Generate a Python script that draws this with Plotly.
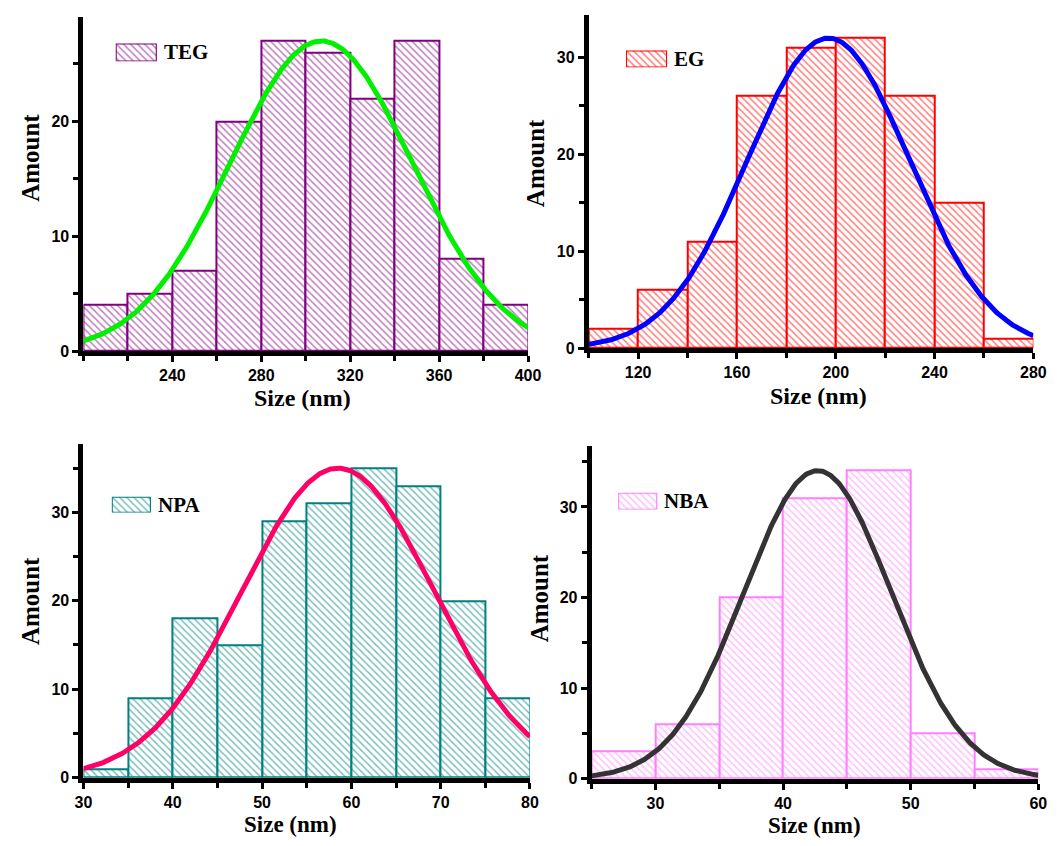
import numpy as np
import plotly.graph_objects as go

W, H = 1064, 846

# ---- histogram data (bin edges and counts) ----
teg_edges = [200, 220, 240, 260, 280, 300, 320, 340, 360, 380, 400]
teg_counts = [4, 5, 7, 20, 27, 26, 22, 27, 8, 4]

eg_edges = [100, 120, 140, 160, 180, 200, 220, 240, 260, 280]
eg_counts = [2, 6, 11, 26, 31, 32, 26, 15, 1]

npa_edges = [30, 35, 40, 45, 50, 55, 60, 65, 70, 75, 80]
npa_counts = [1, 9, 18, 15, 29, 31, 35, 33, 20, 9]

nba_edges = [25, 30, 35, 40, 45, 50, 55, 60]
nba_counts = [3, 6, 20, 31, 34, 5, 1]

# ---- Gaussian fit parameters: (centre, sigma, amplitude) ----
teg_fit = (307.0, 41.0, 27.0)
eg_fit = (197.0, 32.8, 32.0)
npa_fit = (58.5, 10.7, 35.0)
nba_fit = (42.7, 5.76, 34.0)

# ---- tick labels ----
teg_xticks = [240, 280, 320, 360, 400]
eg_xticks = [120, 160, 200, 240, 280]
npa_xticks = [30, 40, 50, 60, 70, 80]
nba_xticks = [30, 40, 50, 60]
teg_yticks = [0, 10, 20]
other_yticks = [0, 10, 20, 30]

TICK_FONT = dict(family="Arial, Liberation Sans", size=16, color="black", weight="bold")
SERIF = "Times New Roman, Liberation Serif"
HATCH = dict(shape="\\", size=5, solidity=0.3, bgcolor="white", fillmode="overlay")


def px(x):
    return x / W


def py(y):
    return 1 - y / H


panels = [
    dict(name="TEG", edges=teg_edges, counts=teg_counts, fit=teg_fit,
         bar="#800080", line="#00F000", lw=5,
         dom=(76, 530, 355, 17), yr=29.1, xt=teg_xticks, yt=teg_yticks,
         xminor=20, yminor=5,
         sw=(109, 151, 44, 62), title_x=(300, 402, 24), title_y=(22, 160)),
    dict(name="EG", edges=eg_edges, counts=eg_counts, fit=eg_fit,
         bar="#FF0000", line="#0000FF", lw=5,
         dom=(592, 1046, 352, 15), yr=34.4, xt=eg_xticks, yt=other_yticks,
         xminor=20, yminor=5,
         sw=(630, 672, 51, 68), title_x=(827, 400, 24), title_y=(537, 165)),
    dict(name="NPA", edges=npa_edges, counts=npa_counts, fit=npa_fit,
         bar="#008080", line="#FF0066", lw=5,
         dom=(76, 532, 786, 449), yr=37.7, xt=npa_xticks, yt=other_yticks,
         xminor=5, yminor=5,
         sw=(105, 145, 502, 518), title_x=(287, 833, 23), title_y=(22, 608)),
    dict(name="NBA", edges=nba_edges, counts=nba_counts, fit=nba_fit,
         bar="#FF80FF", line="#333333", lw=5,
         dom=(595, 1051, 787, 451), yr=36.7, xt=nba_xticks, yt=other_yticks,
         xminor=5, yminor=5,
         sw=(622, 662, 498, 515), title_x=(823, 834, 23), title_y=(542, 605)),
]

fig = go.Figure()
layout = {}
annotations = []

for i, p in enumerate(panels):
    n = i + 1
    xa = "x" if n == 1 else f"x{n}"
    ya = "y" if n == 1 else f"y{n}"
    edges = np.array(p["edges"], dtype=float)
    centers = (edges[:-1] + edges[1:]) / 2
    widths = np.diff(edges)

    fig.add_trace(go.Bar(
        x=centers, y=p["counts"], width=widths,
        marker=dict(color="white",
                    line=dict(color=p["bar"], width=2),
                    pattern=dict(fgcolor=p["bar"], **HATCH)),
        xaxis=xa, yaxis=ya, showlegend=False, name=p["name"],
    ))

    mu, sig, amp = p["fit"]
    xs = np.linspace(edges[0], edges[-1], 400)
    ys = amp * np.exp(-(xs - mu) ** 2 / (2 * sig ** 2))
    fig.add_trace(go.Scatter(
        x=xs, y=ys, mode="lines", line=dict(color=p["line"], width=p["lw"]),
        xaxis=xa, yaxis=ya, showlegend=False, hoverinfo="skip",
    ))

    x0, x1, y0, y1 = p["dom"]
    layout["xaxis" if n == 1 else f"xaxis{n}"] = dict(
        domain=[px(x0), px(x1)], range=[edges[0], edges[-1]], anchor=ya,
        showline=True, linecolor="black", linewidth=5, mirror=False,
        showgrid=False, zeroline=False,
        tickmode="array", tickvals=p["xt"], ticks="outside", ticklen=6,
        tickwidth=2.5, tickcolor="black", tickfont=TICK_FONT,
        minor=dict(tickmode="linear", tick0=edges[0], dtick=p["xminor"],
                   ticks="outside", ticklen=5, tickwidth=2.5, tickcolor="black",
                   showgrid=False),
    )
    layout["yaxis" if n == 1 else f"yaxis{n}"] = dict(
        domain=[py(y0), py(y1)], range=[0, p["yr"]], anchor=xa,
        showline=True, linecolor="black", linewidth=5,
        showgrid=False, zeroline=False,
        tickmode="array", tickvals=p["yt"], ticks="outside", ticklen=6,
        tickwidth=2.5, tickcolor="black", tickfont=TICK_FONT,
        minor=dict(tickmode="linear", tick0=0, dtick=p["yminor"],
                   ticks="outside", ticklen=5, tickwidth=2.5, tickcolor="black",
                   showgrid=False),
    )

    # legend swatch on its own hidden axes
    sxn, syn = n + 4, n + 4
    sx0, sx1, sy0, sy1 = p["sw"]
    fig.add_trace(go.Bar(
        x=[0], y=[1], width=[1],
        marker=dict(color="white",
                    line=dict(color=p["bar"], width=2),
                    pattern=dict(fgcolor=p["bar"], **HATCH)),
        xaxis=f"x{sxn}", yaxis=f"y{syn}", showlegend=False, hoverinfo="skip",
    ))
    layout[f"xaxis{sxn}"] = dict(domain=[px(sx0), px(sx1)], range=[-0.5, 0.5],
                                 anchor=f"y{syn}", visible=False, fixedrange=True)
    layout[f"yaxis{syn}"] = dict(domain=[py(sy1), py(sy0)], range=[0, 1],
                                 anchor=f"x{sxn}", visible=False, fixedrange=True)
    annotations.append(dict(
        text=p["name"], x=px(sx1 + 5), y=py((sy0 + sy1) / 2),
        xref="paper", yref="paper", xanchor="left", yanchor="middle",
        showarrow=False,
        font=dict(family=SERIF, size=21, color="black", weight="bold"),
    ))

    # axis titles
    tx, ty, tsize = p["title_x"]
    annotations.append(dict(
        text="Size (nm)", x=px(tx), y=py(ty), xref="paper", yref="paper",
        xanchor="center", yanchor="middle", showarrow=False,
        font=dict(family=SERIF, size=tsize, color="black", weight="bold"),
    ))
    ax_, ay_ = p["title_y"]
    annotations.append(dict(
        text="Amount", x=px(ax_), y=py(ay_), xref="paper", yref="paper",
        xanchor="center", yanchor="middle", showarrow=False, textangle=-90,
        font=dict(family=SERIF, size=25, color="black", weight="bold"),
    ))

fig.update_layout(
    width=W, height=H, margin=dict(l=0, r=0, t=0, b=0),
    paper_bgcolor="white", plot_bgcolor="white",
    barmode="overlay", bargap=0,
    annotations=annotations, showlegend=False,
    **layout,
)

fig.write_html("out.html")
